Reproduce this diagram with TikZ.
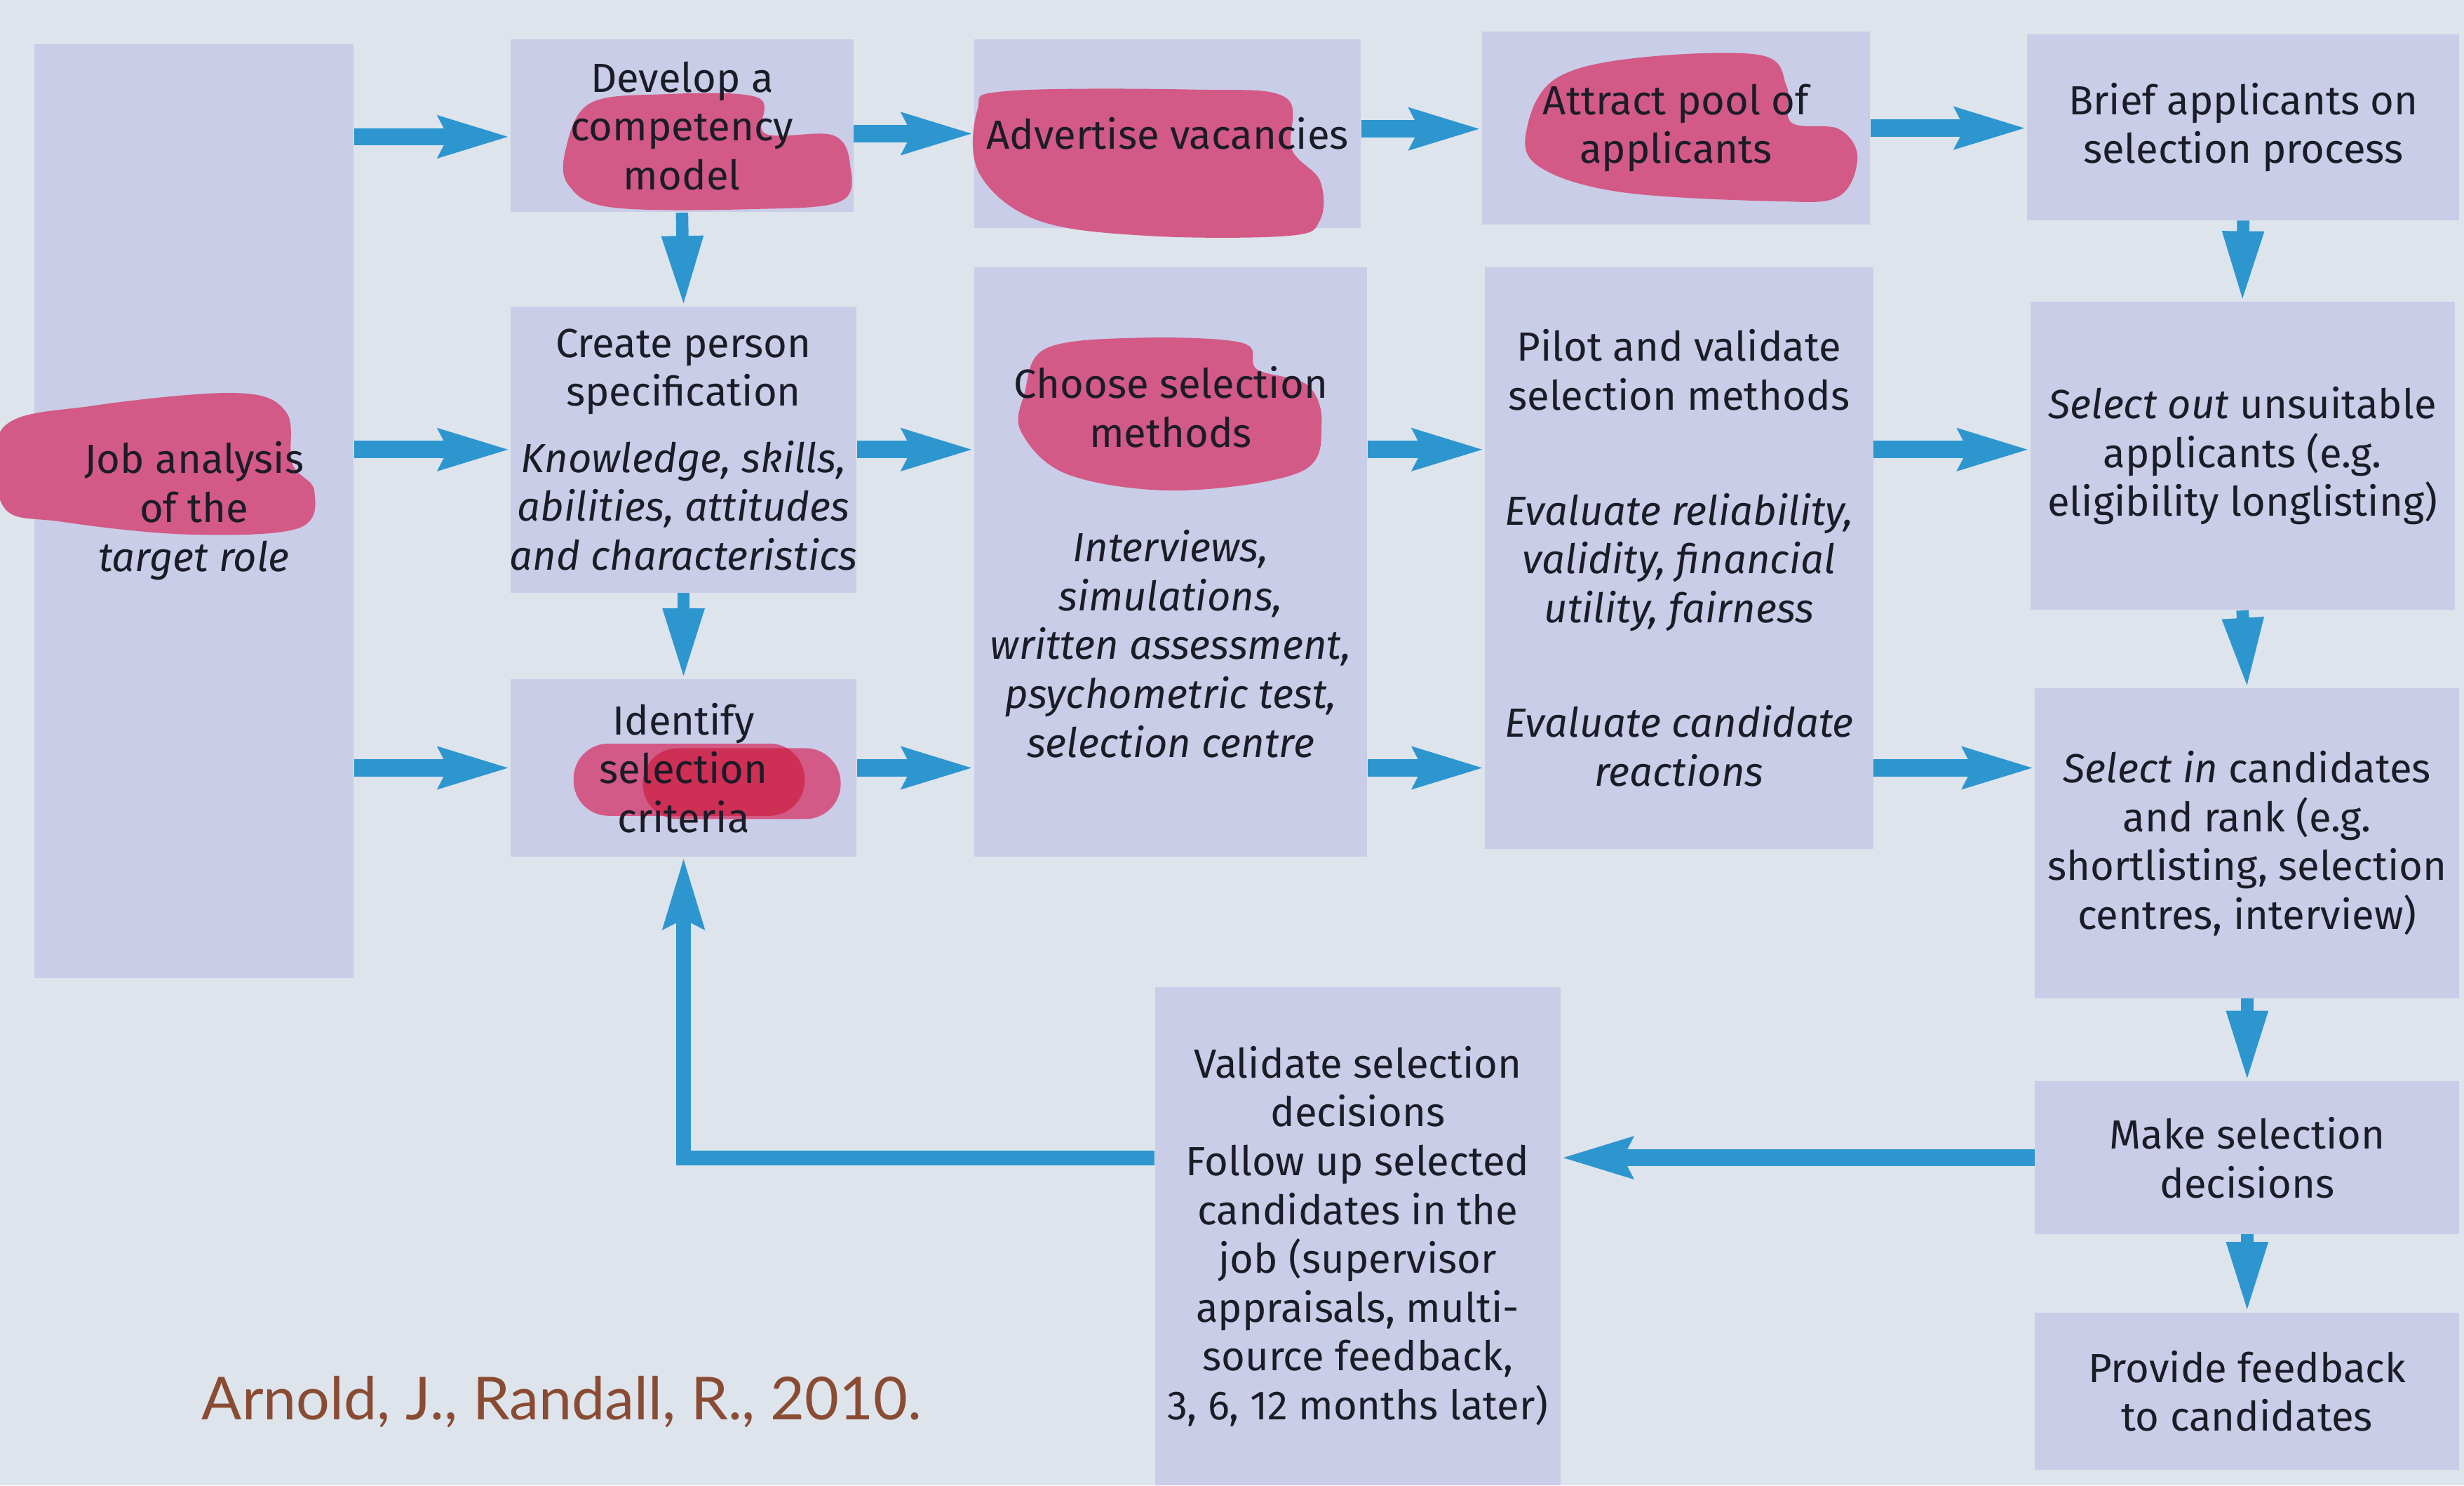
\documentclass[tikz,border=0pt]{standalone}
\usepackage{fontspec}
\setmainfont{Fira Sans}
\newfontfamily\citefont{Lato}
\usetikzlibrary{arrows.meta,fit,calc}

\definecolor{pagebg}{HTML}{DDE4EC}
\definecolor{boxfill}{HTML}{C9CDE7}
\definecolor{flowblue}{HTML}{2E96CF}
\definecolor{blobpink}{HTML}{D35A86}
\definecolor{blobred}{HTML}{CE2F55}
\definecolor{inktext}{HTML}{1C1C28}
\definecolor{citebrown}{HTML}{8A4B33}

\tikzset{
  stagebox/.style={inner sep=0pt, fill=boxfill},
  stage/.style={inner sep=0pt, align=center, text=inktext,
    font=\fontsize{16.5}{19.8}\selectfont},
  flow/.style={draw=flowblue, line width=7pt,
    -{Stealth[length=1cm,width=0.56cm,inset=0.12cm]}},
  drop/.style={draw=flowblue, line width=5pt,
    -{Triangle[length=1cm,width=0.55cm]}},
  loopback/.style={flow, line width=6pt},
  blob/.style={fill=blobpink}
}

\begin{document}
\begin{tikzpicture}[x=0.0224cm, y=-0.0224cm]
    \fill[pagebg] (0,0) rectangle (1568,945);
    \useasboundingbox (0,0) rectangle (1568,945);

    % boxes
    \node[stagebox, fit={(22,28) (225,622)}] (job) {};
    \node[stagebox, fit={(325,25) (543,135)}] (develop) {};
    \node[stagebox, fit={(325,195) (545,377)}] (create) {};
    \node[stagebox, fit={(325,432) (545,545)}] (identify) {};
    \node[stagebox, fit={(620,25) (866,145)}] (advertise) {};
    \node[stagebox, fit={(620,170) (870,545)}] (choose) {};
    \node[stagebox, fit={(943,20) (1190,143)}] (attract) {};
    \node[stagebox, fit={(945,170) (1192,540)}] (pilot) {};
    \node[stagebox, fit={(1290,22) (1565,140)}] (brief) {};
    \node[stagebox, fit={(1292,192) (1562,388)}] (selout) {};
    \node[stagebox, fit={(1295,438) (1565,635)}] (selin) {};
    \node[stagebox, fit={(1295,688) (1565,785)}] (decide) {};
    \node[stagebox, fit={(1295,835) (1565,935)}] (feedback) {};
    \node[stagebox, fit={(735,628) (993,945)}] (validate) {};

    % highlighter marks
    \fill[blob] plot[smooth cycle, tension=0.6] coordinates {(2,272) (60,258) (150,250) (182,262) (186,295) (200,312) (190,336) (120,340) (40,332) (2,322)};
    \fill[blob] plot[smooth cycle, tension=0.6] coordinates {(360,95) (375,66) (420,60) (482,62) (487,85) (530,86) (541,105) (535,128) (480,133) (390,132) (362,118)};
    \fill[blob] plot[smooth cycle, tension=0.6] coordinates {(622,70) (640,58) (760,57) (818,62) (822,95) (840,115) (840,140) (820,150) (730,150) (660,140) (623,110)};
    \fill[blob] plot[smooth cycle, tension=0.6] coordinates {(972,80) (990,50) (1040,37) (1120,35) (1137,55) (1140,78) (1170,82) (1182,100) (1170,125) (1130,128) (1030,122) (978,105)};
    \fill[blob] plot[smooth cycle, tension=0.6] coordinates {(652,250) (665,222) (720,215) (790,218) (800,235) (832,245) (841,270) (828,300) (750,312) (680,302) (650,275)};
    \fill[blob, rounded corners=0.5cm] (365,473) rectangle (512,519);
    \fill[blob, rounded corners=0.5cm] (409,476) rectangle (535,521);
    \begin{scope}
        \clip[rounded corners=0.5cm] (365,473) rectangle (512,519);
        \fill[blobred, rounded corners=0.5cm] (409,476) rectangle (535,521);
    \end{scope}

    % texts
    \node[stage] (jobtext) at (job) {Job analysis\\ of the\\ \textit{target role}};
    \node[stage] (developtext) at (develop) {Develop a\\ competency\\ model};
    \node[stage] (createtext) at (create) {Create person\\ specification\\[0.25cm]
        \textit{Knowledge, skills,}\\ \textit{abilities, attitudes}\\ \textit{and characteristics}};
    \node[stage] (identifytext) at (identify) {Identify\\ selection\\ criteria};
    \node[stage] (advertisetext) at (advertise) {Advertise vacancies};
    \node[stage] (choosetext) at (choose) {Choose selection\\ methods\\[0.94cm]
        \textit{Interviews,}\\ \textit{simulations,}\\ \textit{written assessment,}\\
        \textit{psychometric test,}\\ \textit{selection centre}};
    \node[stage] (attracttext) at (attract) {Attract pool of\\ applicants};
    \node[stage] (pilottext) at (pilot) {Pilot and validate\\ selection methods\\[0.94cm]
        \textit{Evaluate reliability,}\\ \textit{validity, financial}\\ \textit{utility, fairness}\\[0.94cm]
        \textit{Evaluate candidate}\\ \textit{reactions}};
    \node[stage] (brieftext) at (brief) {Brief applicants on\\ selection process};
    \node[stage] (selouttext) at (selout) {\textit{Select out} unsuitable\\ applicants (e.g.\\ eligibility longlisting)};
    \node[stage] (selintext) at (selin) {\textit{Select in} candidates\\ and rank (e.g.\\ shortlisting, selection\\ centres, interview)};
    \node[stage] (decidetext) at (decide) {Make selection\\ decisions};
    \node[stage] (feedbacktext) at (feedback) {Provide feedback\\ to candidates};
    \node[stage] (validatetext) at (validate) {Validate selection\\ decisions\\ Follow up selected\\ candidates in the\\
        job (supervisor\\ appraisals, multi-\\ source feedback,\\ 3, 6, 12 months later)};

    \node[anchor=base west, text=citebrown, font=\citefont\fontsize{24}{28}\selectfont] (cite) at (123,903) {Arnold, J., Randall, R., 2010.};

    % arrows, top row
    \draw[flow] ($(job.east |- develop)+(0,7)$) -- ($(develop.west)+(0,7)$);
    \draw[flow] ($(develop.east)+(0,5)$) -- ($(develop.east -| advertise.west)+(0,5)$);
    \draw[flow] ($(advertise.east)+(0,-3)$) -- ($(advertise.east -| attract.west)+(0,-3)$);
    \draw[flow] (attract.east) -- (attract.east -| brief.west);
    % middle row
    \draw[flow] (job.east |- create) -- (create.west);
    \draw[flow] (create.east) -- (create.east -| choose.west);
    \draw[flow] (choose.east |- create) -- (pilot.west |- create);
    \draw[flow] (pilot.east |- create) -- (selout.west |- create);
    % lower row
    \draw[flow] (job.east |- identify) -- (identify.west);
    \draw[flow] (identify.east) -- (identify.east -| choose.west);
    \draw[flow] (choose.east |- identify) -- (pilot.west |- identify);
    \draw[flow] (pilot.east |- identify) -- (selin.west |- identify);
    % downwards
    \draw[drop] (develop.south) -- (create.north);
    \draw[drop] (create.south) -- (identify.north);
    \draw[drop] (brief.south) -- (selout.north);
    \draw[drop] (selout.south) -- (selin.north);
    \draw[drop] (selin.south) -- (decide.north);
    \draw[drop] (decide.south) -- (feedback.north);
    % back to the criteria
    \draw[flow] (decide.west) -- (decide.west -| validate.east);
    \coordinate (loopstart) at (validate.west |- decide.center);
    \draw[loopback] (loopstart) -| (identify.south);
\end{tikzpicture}
\end{document}
